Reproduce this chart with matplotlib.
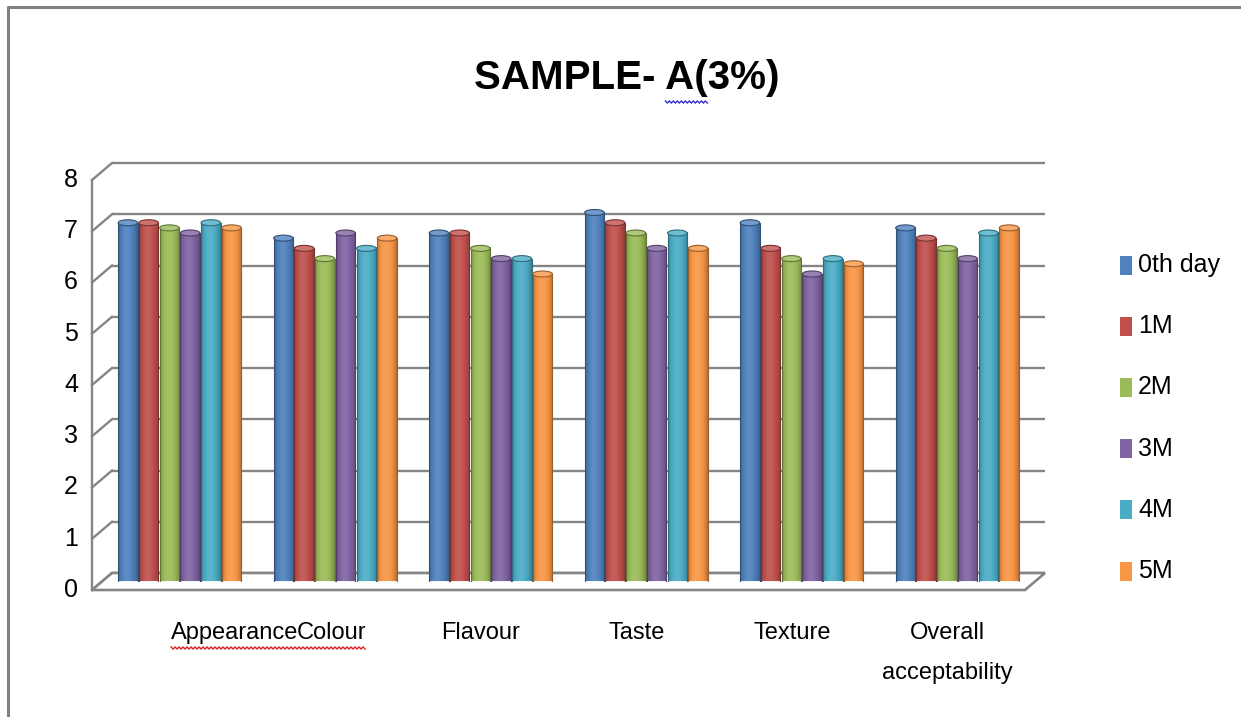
import numpy as np
import matplotlib
matplotlib.use('Agg')
import matplotlib.pyplot as plt
from matplotlib import transforms
from matplotlib.patches import Ellipse, Polygon, Rectangle
from matplotlib.lines import Line2D
from matplotlib.colors import to_rgb

plt.rcParams['font.family'] = ['Liberation Sans', 'DejaVu Sans']

# data
title = 'SAMPLE- A(3%)'
categories = ['Appearance', 'Colour', 'Flavour', 'Taste', 'Texture', 'Overall\nacceptability']
series_names = ['0th day', '1M', '2M', '3M', '4M', '5M']
day0 = [7.0, 6.7, 6.8, 7.2, 7.0, 6.9]
m1 = [7.0, 6.5, 6.8, 7.0, 6.5, 6.7]
m2 = [6.9, 6.3, 6.5, 6.8, 6.3, 6.5]
m3 = [6.8, 6.8, 6.3, 6.5, 6.0, 6.3]
m4 = [7.0, 6.5, 6.3, 6.8, 6.3, 6.8]
m5 = [6.9, 6.7, 6.0, 6.5, 6.2, 6.9]
series_values = [day0, m1, m2, m3, m4, m5]
series_colors = ['#4F81BD', '#C0504D', '#9BBB59', '#8064A2', '#4BACC6', '#F79646']
y_ticks = list(range(0, 9))

W, H = 1241, 717
fig = plt.figure(figsize=(W / 100, H / 100), dpi=100)
ident = transforms.IdentityTransform()

# outer chart frame (left + top visible)
fig.add_artist(Line2D([8 / W, 8 / W, 1], [0, 1 - 7 / H, 1 - 7 / H],
                      transform=fig.transFigure, color='#808080', lw=2.2))

# axes = middle depth plane of the 3d box
ax = fig.add_axes([102 / W, 1 - 581.5 / H, 933 / W, 410 / H])
ax.set_xlim(-0.5, len(categories) - 0.5)
ax.set_ylim(y_ticks[0], y_ticks[-1])
ax.set_autoscale_on(False)
ax.axis('off')
x_lo, x_hi = ax.get_xlim()

DX, DY = 10, 8.5
back = transforms.offset_copy(ax.transData, fig=fig, x=DX, y=DY, units='dots')
front = transforms.offset_copy(ax.transData, fig=fig, x=-DX, y=-DY, units='dots')

grid_c = '#858585'
for v in y_ticks:
    ax.plot([x_lo, x_hi], [v, v], transform=back, color=grid_c, lw=1.7,
            zorder=1, clip_on=False, solid_capstyle='butt')
    p0 = front.transform((x_lo, v))
    p1 = back.transform((x_lo, v))
    ax.add_line(Line2D([p0[0], p1[0]], [p0[1], p1[1]], transform=ident,
                       color=grid_c, lw=1.7, zorder=1, clip_on=False))
    fig.text((p0[0] - 14) / W, p0[1] / H, str(v), ha='right', va='center', fontsize=18)

# front edge of the side wall
p0 = front.transform((x_lo, y_ticks[0]))
p1 = front.transform((x_lo, y_ticks[-1]))
ax.add_line(Line2D([p0[0], p1[0]], [p0[1], p1[1]], transform=ident,
                   color=grid_c, lw=1.7, zorder=1, clip_on=False))

# floor
floor = np.array([front.transform((x_lo, 0)), front.transform((x_hi, 0)),
                  back.transform((x_hi, 0)), back.transform((x_lo, 0))])
ax.add_patch(Polygon(floor, closed=True, transform=ident, fc='white', ec=grid_c,
                     lw=1.9, zorder=1.5, clip_on=False))

# cylinder bars
n = len(series_names)
group_w = 0.8
slot = group_w / n
bw = slot * 0.94
px_per_y = ax.bbox.height / (y_ticks[-1] - y_ticks[0])
eh = 6 / px_per_y

t = np.linspace(0, 1, 48)
k = np.sin(np.pi * t ** 0.85) ** 0.7
light = 0.72 + 0.34 * k

for i, (vals, col) in enumerate(zip(series_values, series_colors)):
    base = np.array(to_rgb(col))
    rgb = np.where(light[:, None] <= 1, base[None, :] * light[:, None],
                   base[None, :] + (1 - base[None, :]) * (light[:, None] - 1) * 1.5)
    img = np.clip(rgb, 0, 1)[None, :, :]
    dark = base * 0.62
    top = base + (1 - base) * 0.2
    for j, v in enumerate(vals):
        xc = j - group_w / 2 + slot * (i + 0.5)
        x0 = xc - bw / 2
        ax.imshow(img, extent=[x0, x0 + bw, 0, v], aspect='auto',
                  interpolation='bilinear', zorder=3)
        ax.add_patch(Rectangle((x0, 0), bw, v, fill=False, ec=dark, lw=0.8, zorder=3.2))
        ax.add_patch(Ellipse((xc, v), bw, eh, fc=top, ec=dark, lw=0.8, zorder=3.4))

# category labels
renderer = fig.canvas.get_renderer()
label_top = 622
lab_texts = []
for j, name in enumerate(categories):
    px = front.transform((j, 0))[0]
    if j == 1:
        px += 6
    txt = fig.text(px / W, 1 - label_top / H, name, ha='center', va='top',
                   fontsize=17, linespacing=2.05, multialignment='center')
    lab_texts.append(txt)

# first label sits right against the second one (as drawn in the original)
colour_box = lab_texts[1].get_window_extent(renderer)
lab_texts[0].set_ha('right')
lab_texts[0].set_x((colour_box.x0 + 2) / W)
app_box = lab_texts[0].get_window_extent(renderer)


def wavy(x0, x1, y, color):
    xs = np.arange(x0, x1 + 1, 2.0)
    ys = y + np.where(np.arange(len(xs)) % 2 == 0, 1.1, -1.1)
    fig.add_artist(Line2D(xs, ys, transform=ident, color=color, lw=1.0))


wavy(app_box.x0, colour_box.x1, colour_box.y0 - 4, '#e02020')

# title
title_txt = fig.text(627 / W, 1 - 89 / H, title, ha='center', va='baseline',
                     fontsize=29, fontweight='bold')
tb = title_txt.get_window_extent(renderer)


def text_width(s):
    tmp = fig.text(0, 0, s, fontsize=29, fontweight='bold')
    w = tmp.get_window_extent(renderer).width
    tmp.remove()
    return w


a_pos = title.index('A(')
start = tb.x0 + text_width(title[:a_pos + 1]) - text_width('A')
end = tb.x0 + text_width(title[:a_pos + 2])
wavy(start, end, H - 102, '#3030d0')

# legend
for k_, (name, col) in enumerate(zip(series_names, series_colors)):
    cy = 265 + k_ * 61.2
    fig.add_artist(Rectangle((1120 / W, 1 - (cy + 9.5) / H), 12 / W, 19 / H,
                             transform=fig.transFigure, fc=col, ec='none'))
    fig.text(1138 / W, 1 - cy / H, name, ha='left', va='center', fontsize=18)

fig.savefig('out.png', dpi=100)
